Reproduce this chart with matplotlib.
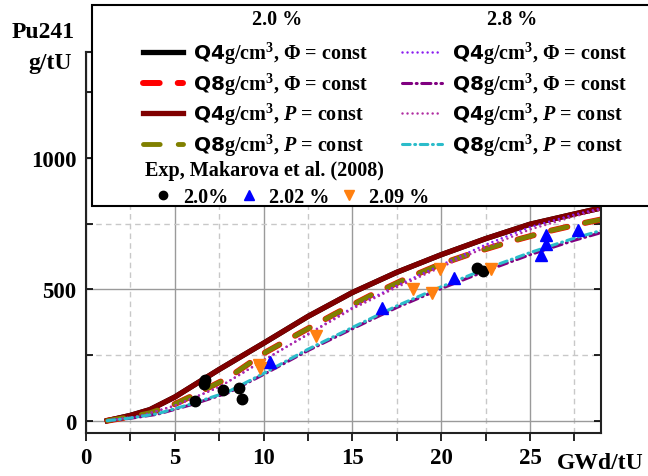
import numpy as np
import matplotlib
matplotlib.use("Agg")
import matplotlib.pyplot as plt
from matplotlib.patches import Rectangle
from matplotlib.ticker import MultipleLocator

plt.rcParams['font.family'] = ['Liberation Serif', 'DejaVu Serif']
plt.rcParams['font.weight'] = 'bold'
plt.rcParams['mathtext.fontset'] = 'custom'
plt.rcParams['mathtext.rm'] = 'Liberation Serif:bold'
plt.rcParams['mathtext.it'] = 'Liberation Serif:italic:bold'
plt.rcParams['mathtext.sf'] = 'DejaVu Sans'

# calculated curves, burnup GWd/tU -> Pu241 g/tU
x_q4p_20 = [1.2, 2.5, 3.6, 5, 7.5, 10, 12.5, 15, 17.5, 20, 22.5, 25, 27.5, 29]
y_q4p_20 = [0, 20, 42, 90, 195, 295, 397, 488, 565, 632, 693, 748, 787, 810]
x_q4f_20 = x_q4p_20
y_q4f_20 = y_q4p_20

x_q8p_20 = [1.2, 2.5, 3.6, 5, 6, 8, 10, 12, 14, 16, 18, 20, 22, 24, 26, 28, 29]
y_q8p_20 = [0, 15, 30, 63, 95, 163, 256, 332, 406, 476, 540, 597, 643, 684, 721, 752, 766]
x_q8f_20 = x_q8p_20
y_q8f_20 = y_q8p_20

x_q4p_28 = [1.2, 3, 5, 7.5, 10, 12.5, 15, 17.5, 20, 22.5, 25, 27.5, 29]
y_q4p_28 = [0, 17, 57, 128, 230, 328, 426, 508, 585, 660, 728, 778, 804]
x_q4f_28 = x_q4p_28
y_q4f_28 = [0, 17, 57, 128, 230, 330, 430, 514, 593, 670, 737, 785, 808]

x_q8p_28 = [1.2, 2.5, 4, 6, 8, 10, 12.5, 15, 17.5, 20, 22.5, 25, 27.5, 29]
y_q8p_28 = [0, 10, 26, 65, 110, 180, 272, 355, 437, 510, 578, 640, 695, 724]
x_q8f_28 = x_q8p_28
y_q8f_28 = [0, 9, 24, 62, 106, 176, 267, 350, 431, 503, 570, 632, 687, 716]

# experiment, Makarova et al. (2008)
x_exp_20 = [6.15, 6.62, 6.71, 7.74, 8.63, 8.81, 22.03, 22.37]
y_exp_20 = [76, 140, 156, 115, 124, 83, 582, 569]
x_exp_202 = [10.34, 16.64, 20.72, 25.61, 25.93, 25.93, 27.68]
y_exp_202 = [223, 429, 543, 630, 672, 706, 727]
x_exp_209 = [9.72, 9.81, 12.97, 18.43, 19.5, 19.96, 22.79]
y_exp_209 = [212, 200, 321, 500, 487, 579, 579]

lab_q4f = r'$\mathsf{Q4}$g/cm$^3$, $\mathit{\Phi}$ = const'
lab_q8f = r'$\mathsf{Q8}$g/cm$^3$, $\mathit{\Phi}$ = const'
lab_q4p = r'$\mathsf{Q4}$g/cm$^3$, $\mathit{P}$ = const'
lab_q8p = r'$\mathsf{Q8}$g/cm$^3$, $\mathit{P}$ = const'

fig = plt.figure(figsize=(6.48, 4.77), dpi=100)
ax = fig.add_axes([86/648, 1-434/477, (601-86)/648, (434-53)/477])

h1, = ax.plot(x_q4f_20, y_q4f_20, color='black', lw=3.8, label=lab_q4f)
h2, = ax.plot(x_q8f_20, y_q8f_20, color='red', lw=4.3, dashes=(12/4.3, 13/4.3),
              dash_capstyle='round', label=lab_q8f)
h3, = ax.plot(x_q4p_20, y_q4p_20, color='#800000', lw=3.8, label=lab_q4p)
h4, = ax.plot(x_q8p_20, y_q8p_20, color='#808000', lw=3.5, dashes=(12/3.5, 13/3.5),
              dash_capstyle='round', label=lab_q8p)
h5, = ax.plot(x_q4f_28, y_q4f_28, color='#8a1cf0', lw=1.8, dashes=(0.01, 2.0),
              dash_capstyle='round', label=lab_q4f)
h6, = ax.plot(x_q8f_28, y_q8f_28, color='#800080', lw=2.2, dashes=(3, 1.5, 0.3, 1.5),
              dash_capstyle='round', label=lab_q8f)
h7, = ax.plot(x_q4p_28, y_q4p_28, color='#b02ca0', lw=1.8, dashes=(0.01, 2.0),
              dash_capstyle='round', label=lab_q4p)
h8, = ax.plot(x_q8p_28, y_q8p_28, color='#2bbcca', lw=2.2, dashes=(2.5, 1.5, 0.3, 1.5),
              dash_capstyle='round', label=lab_q8p)

m1, = ax.plot(x_exp_20, y_exp_20, 'o', color='black', ms=7.5, ls='none', label='2.0%')
m2, = ax.plot(x_exp_202, y_exp_202, '^', color='blue', ms=8.5, ls='none', label='2.02 %')
m3, = ax.plot(x_exp_209, y_exp_209, 'v', color='#ff8010', ms=8.5, ls='none', label='2.09 %')

ax.set_xlim(0, 29)
ax.set_ylim(-47, 1404)
ax.xaxis.set_major_locator(MultipleLocator(5))
ax.xaxis.set_minor_locator(MultipleLocator(2.5))
ax.yaxis.set_major_locator(MultipleLocator(500))
ax.yaxis.set_minor_locator(MultipleLocator(250))
ax.grid(which='major', color='#9a9a9a', lw=1.0, ls='-')
ax.grid(which='minor', color='#c8c8c8', lw=1.0, ls=(0, (4, 3)))
ax.set_axisbelow(True)
ax.tick_params(axis='x', which='both', direction='out', length=6, width=1.2,
               labelsize=16.5, pad=4)
ax.tick_params(axis='y', which='both', direction='in', length=5, width=1.2,
               labelsize=16.5, pad=7, right=True)
for s in ax.spines.values():
    s.set_linewidth(1.5)
    s.set_color('#222222')

fig.text(43/648, 1-33/477, 'Pu241', ha='center', va='center', fontsize=17)
fig.text(50/648, 1-63/477, 'g/tU', ha='center', va='center', fontsize=17)
fig.text(600/648, 1-464/477, 'GWd/tU', ha='center', va='center', fontsize=17)

# legend box
box = Rectangle((92/648, 1-207/477), 0.95, 201/477, transform=fig.transFigure,
                facecolor='white', edgecolor='black', lw=1.5, zorder=10)
fig.add_artist(box)
fig.text(277/648, 1-20/477, '2.0 %', ha='center', va='center', fontsize=14.5, zorder=12)
fig.text(512/648, 1-20/477, '2.8 %', ha='center', va='center', fontsize=14.5, zorder=12)
fig.text(145/648, 1-171/477, 'Exp, Makarova et al. (2008)', ha='left', va='center',
         fontsize=14.5, zorder=12)

leg_kw = dict(frameon=False, fontsize=14.5, borderpad=0, borderaxespad=0,
              handlelength=2.0, handletextpad=0.5, labelspacing=0.22,
              loc='upper left', bbox_transform=fig.transFigure)
lg1 = fig.legend([h1, h2, h3, h4], [lab_q4f, lab_q8f, lab_q4p, lab_q8p],
                 bbox_to_anchor=(143/648, 1-41/477), **leg_kw)
lg1.set_zorder(12)
lg2 = fig.legend([h5, h6, h7, h8], [lab_q4f, lab_q8f, lab_q4p, lab_q8p],
                 bbox_to_anchor=(402/648, 1-41/477), **leg_kw)
lg2.set_zorder(12)
lg3 = fig.legend([m1, m2, m3], ['2.0%', '2.02 %', '2.09 %'], ncol=3, frameon=False,
                 fontsize=14.5, borderpad=0, borderaxespad=0, handlelength=0.9,
                 handletextpad=0.55, columnspacing=0.55, loc='upper left',
                 bbox_to_anchor=(154/648, 1-188/477), bbox_transform=fig.transFigure,
                 markerscale=0.8)
lg3.set_zorder(12)

fig.savefig('out.png', dpi=100)
